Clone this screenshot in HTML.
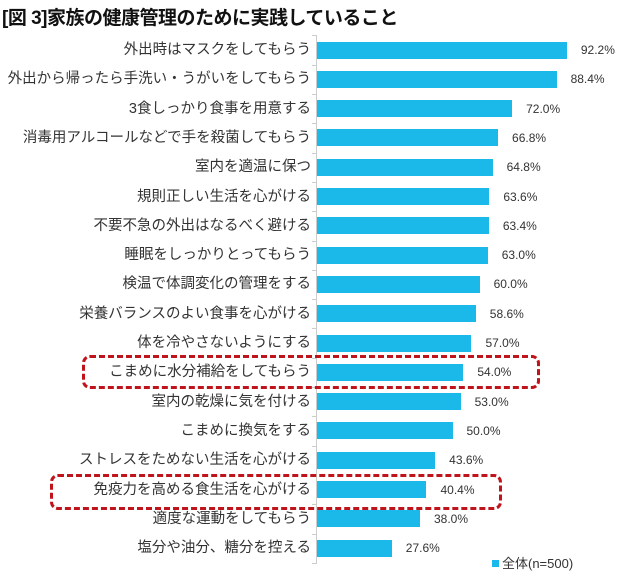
<!DOCTYPE html>
<html><head><meta charset="utf-8"><style>
body{margin:0;width:617px;height:572px;background:#fff;font-family:"Liberation Sans","Noto Sans CJK JP",sans-serif;position:relative;overflow:hidden}
.t{position:absolute;left:2px;top:3px;font-size:19px;font-weight:bold;color:#111;letter-spacing:-0.5px}
.l{position:absolute;right:306px;font-size:14.5px;color:#333;white-space:nowrap;line-height:18px}
.b{position:absolute;left:317px;height:17px;background:#1bb8ea}
.v{position:absolute;font-size:12px;color:#333;line-height:18px}
.ax{position:absolute;left:316px;top:35px;width:1px;height:528px;background:#ccc}
.tk{position:absolute;left:312px;width:5px;height:1px;background:#ccc}
.box{position:absolute;border:3px dashed #c0141c;border-radius:8px}
</style></head><body>
<div class="t">[図 3]家族の健康管理のために実践していること</div>
<div class="ax"></div>
<div id="c"></div>
<div class="box" style="left:82px;top:355px;width:452px;height:28px"></div>
<div class="box" style="left:50px;top:474px;width:446px;height:30px"></div>
<div style="position:absolute;left:492px;top:553px;font-size:13px;color:#333"><span style="display:inline-block;width:7px;height:7px;background:#1bb8ea;margin-right:3px;vertical-align:1px"></span>全体(n=500)</div>
<script>
var d=[["外出時はマスクをしてもらう",92.2],["外出から帰ったら手洗い・うがいをしてもらう",88.4],["3食しっかり食事を用意する",72.0],["消毒用アルコールなどで手を殺菌してもらう",66.8],["室内を適温に保つ",64.8],["規則正しい生活を心がける",63.6],["不要不急の外出はなるべく避ける",63.4],["睡眠をしっかりとってもらう",63.0],["検温で体調変化の管理をする",60.0],["栄養バランスのよい食事を心がける",58.6],["体を冷やさないようにする",57.0],["こまめに水分補給をしてもらう",54.0],["室内の乾燥に気を付ける",53.0],["こまめに換気をする",50.0],["ストレスをためない生活を心がける",43.6],["免疫力を高める食生活を心がける",40.4],["適度な運動をしてもらう",38.0],["塩分や油分、糖分を控える",27.6]];
var h="";
for(var i=0;i<d.length;i++){var c=50+i*29.3;var w=d[i][1]*2.71;
h+='<div class="l" style="top:'+(c-9)+'px">'+d[i][0]+'</div>';
h+='<div class="b" style="top:'+(c-8.5)+'px;width:'+w+'px"></div>';
h+='<div class="v" style="top:'+(c-9)+'px;left:'+(317+w+14)+'px">'+d[i][1].toFixed(1)+'%</div>';
h+='<div class="tk" style="top:'+(c-14.6)+'px"></div>';}
h+='<div class="tk" style="top:'+(50+18*29.3-14.6)+'px"></div>';
document.getElementById("c").innerHTML=h;
</script>
</body></html>
